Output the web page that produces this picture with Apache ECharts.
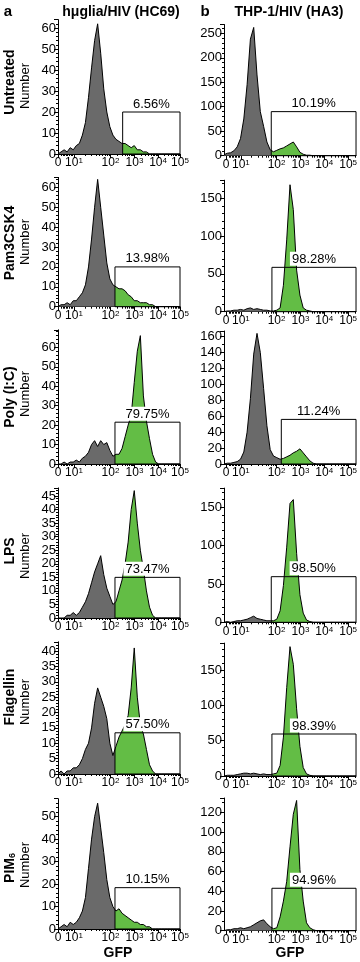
<!DOCTYPE html>
<html lang="en">
<head>
<meta charset="UTF-8">
<title>GFP histograms - hμglia/HIV and THP-1/HIV</title>
<script src="https://cdn.jsdelivr.net/npm/echarts@6/dist/echarts.min.js"></script>
<style>
  body { margin: 0; background: #fff; }
  #chart { width: 360px; height: 962px; }
</style>
</head>
<body>
<div id="chart"></div>
<script>
// GFP histograms on the display (channel) scale 0..1000, one count every 25 units
const binStep = 25;

const rowNames = ['Untreated', 'Pam3CSK4', 'Poly (I:C)', 'LPS', 'Flagellin', 'PIM{sub|6}'];

// a: hμglia/HIV (HC69)
const gliaUntreated = [0,1,2,1,3,2,4,5,9,15, 27,41,54,62,48,31,20,13,9,7, 6,5,5,4,3,4,2,2,1,1, 0,0,0,0,0,0,0,0,0,0,0];
const gliaPam3 =      [0,1,1,2,1,3,3,5,7,11, 20,34,50,64,50,36,22,14,11,10, 9,9,8,6,5,3,3,2,2,2, 1,1,0,0,0,0,0,0,0,0,0];
const gliaPolyIC =    [0,0,1,0,1,1,2,1,3,4, 6,10,12,9,12,10,11,7,4,5, 5,8,14,20,25,42,58,66,35,22, 13,5,1,0,0,0,0,0,0,0,0];
const gliaLPS =       [0,0,0,1,1,2,1,2,4,6, 9,13,17,20,23,16,11,8,5,6, 10,14,20,28,40,47,35,25,18,10, 4,1,0,0,0,0,0,0,0,0,0];
const gliaFlagellin = [0,1,0,1,1,2,2,3,5,8, 10,15,23,28,25,22,18,10,6,9, 12,14,16,19,28,41,25,16,13,8, 3,1,0,0,0,0,0,0,0,0,0];
const gliaPIM6 =      [0,1,2,1,3,2,3,5,8,14, 27,40,50,56,45,34,22,14,10,8, 9,7,6,5,4,3,3,2,2,1, 1,0,0,0,0,0,0,0,0,0,0];
const gliaGate = [530, 467, 467, 467, 467, 467];
const gliaGateTop = [20, 20, 21.5, 15, 13.4, 18.4];
const gliaPct = ['6.56%', '13.98%', '79.75%', '73.47%', '57.50%', '10.15%'];
const gliaYMax = [64, 65, 69, 48, 43, 58];
const gliaYStep = [10, 10, 10, 5, 5, 10];

// b: THP-1/HIV (HA3)
const thpUntreated = [2,5,6,10,18,35,75,145,238,262, 165,90,60,28,12,8,11,14,16,20, 24,28,18,7,3,1,1,0,0,0, 0,0,0,0,0,0,0,0,0,0,0];
const thpPam3 =      [0,1,1,2,2,3,2,4,5,3, 4,3,2,2,1,1,2,5,35,95, 168,135,55,22,5,2,1,0,0,0, 0,0,0,0,0,0,0,0,0,0,0];
const thpPolyIC =    [0,1,1,2,3,6,15,40,82,138, 164,140,95,48,18,10,8,6,7,9, 11,14,16,19,14,9,4,1,0,0, 0,0,0,0,0,0,0,0,0,0,0];
const thpLPS =       [0,1,0,1,2,2,3,4,6,8, 5,4,3,2,2,2,4,15,48,98, 155,160,90,36,12,3,1,0,0,0, 0,0,0,0,0,0,0,0,0,0,0];
const thpFlagellin = [0,1,1,1,2,3,4,4,3,4, 3,2,3,2,2,3,4,15,55,125, 183,158,95,42,12,3,1,0,0,0, 0,0,0,0,0,0,0,0,0,0,0];
const thpPIM6 =      [0,1,1,2,2,3,2,3,4,6, 8,10,11,7,4,2,3,14,30,50, 85,118,132,62,30,8,3,1,0,0, 0,0,0,0,0,0,0,0,0,0,0];
const thpGate = [358, 363, 434, 358, 363, 363];
const thpGateTop = [90, 58.7, 56, 59.5, 59.4, 43];
const thpPct = ['10.19%', '98.28%', '11.24%', '98.50%', '98.39%', '94.96%'];
const thpYMax = [268, 174, 167, 175, 188, 134.5];
const thpYStep = [50, 50, 20, 50, 50, 20];

// GFP tick positions on the display scale and their labels
const gliaTicks = [0, 131, 430, 627, 820, 1000];
const thpTicks = [15, 128, 398, 579, 759, 940];
const tickLabels = ['0', '10{s|1}', '10{s|2}', '10{s|3}', '10{s|4}', '10{s|5}'];

const gliaCounts = [gliaUntreated, gliaPam3, gliaPolyIC, gliaLPS, gliaFlagellin, gliaPIM6];
const thpCounts = [thpUntreated, thpPam3, thpPolyIC, thpLPS, thpFlagellin, thpPIM6];

// layout (pixels)
const gliaTop = [19.6, 177.4, 329.8, 487.9, 641.8, 798.7];
const gliaBase = [154, 306.7, 464, 618, 774, 929];
const thpTop = [24.5, 180.2, 331, 488.1, 643.1, 798];
const thpBase = [155.7, 311.7, 464, 622.3, 776, 930.7];
const rowLabelY = [82, 243, 397, 551, 697, 868];
const numberY = [86, 242, 394, 556, 702, 865];

const fontFamily = 'Liberation Sans, Arial, Helvetica, sans-serif';
const grayFill = '#6a6a6a';
const greenFill = '#63bd45';

// log-style minor ticks between the decade ticks
function minorTicks(t) {
  const out = [];
  for (let m = 2; m <= 9; m++) out.push(t[0] + (t[1] - t[0]) * m / 10);
  for (let k = 1; k < t.length - 1; k++) {
    for (let m = 2; m <= 9; m++) out.push(t[k] + (t[k + 1] - t[k]) * Math.log10(m));
  }
  const last = t[t.length - 1], dec = last - t[t.length - 2];
  for (let m = 2; m <= 9; m++) {
    const p = last + dec * Math.log10(m);
    if (p < 1000) out.push(p);
  }
  return out;
}

const panels = [];
for (let r = 0; r < 6; r++) {
  panels.push({ counts: gliaCounts[r], gate: gliaGate[r], gateTop: gliaGateTop[r], pct: gliaPct[r],
    yMax: gliaYMax[r], yStep: gliaYStep[r], ticks: gliaTicks, left: 58, width: 122,
    top: gliaTop[r], base: gliaBase[r], minorSplit: 5 });
}
for (let r = 0; r < 6; r++) {
  panels.push({ counts: thpCounts[r], gate: thpGate[r], gateTop: thpGateTop[r], pct: thpPct[r],
    yMax: thpYMax[r], yStep: thpYStep[r], ticks: thpTicks, left: 224, width: 133,
    top: thpTop[r], base: thpBase[r], minorSplit: thpYStep[r] === 20 ? 2 : 5 });
}

const grid = [], xAxis = [], yAxis = [], series = [], visualMap = [];
panels.forEach((p, k) => {
  grid.push({ left: p.left, top: p.top, width: p.width, height: p.base - p.top });
  const ticks = p.ticks;
  xAxis.push({
    gridIndex: k, type: 'value', min: 0, max: 1000,
    axisLine: { onZero: false, lineStyle: { color: '#000', width: 1 } },
    axisTick: { customValues: ticks, length: 4, lineStyle: { color: '#000' } },
    axisLabel: {
      customValues: ticks, color: '#000', fontSize: 12, margin: 3, fontFamily: fontFamily,
      formatter: function (v) {
        const i = ticks.findIndex(t => Math.abs(t - v) < 0.5);
        return i < 0 ? '' : tickLabels[i];
      },
      rich: { s: { fontSize: 8, verticalAlign: 'top', lineHeight: 9, fontFamily: fontFamily, color: '#000' } }
    },
    splitLine: { show: false }
  });
  xAxis.push({
    gridIndex: k, type: 'value', min: 0, max: 1000, position: 'bottom',
    axisLine: { show: false },
    axisTick: { customValues: minorTicks(ticks), length: 2, lineStyle: { color: '#000' } },
    axisLabel: { show: false },
    splitLine: { show: false }
  });
  yAxis.push({
    gridIndex: k, type: 'value', min: 0, max: p.yMax, interval: p.yStep,
    axisLine: { show: true, lineStyle: { color: '#000', width: 1 } },
    axisTick: { show: true, length: 4, lineStyle: { color: '#000' } },
    minorTick: { show: true, splitNumber: p.minorSplit, length: 2, lineStyle: { color: '#000' } },
    axisLabel: { color: '#000', fontSize: 13, margin: 2, showMaxLabel: false, fontFamily: fontFamily },
    splitLine: { show: false }
  });

  const data = p.counts.map((v, i) => [i * binStep, v]);
  series.push({
    type: 'line', xAxisIndex: 2 * k, yAxisIndex: k, data: data,
    symbol: 'none', silent: true, animation: false,
    lineStyle: { width: 0 }, areaStyle: { opacity: 1 }, z: 2
  });
  // gray below the gate, green inside it (finite pieces so the gradient gets stops)
  visualMap.push({
    type: 'piecewise', show: false, dimension: 0, seriesIndex: series.length - 1,
    pieces: [{ gte: -100, lt: p.gate, color: grayFill }, { gte: p.gate, lte: 1100, color: greenFill }]
  });
  series.push({
    type: 'line', xAxisIndex: 2 * k, yAxisIndex: k, data: data,
    symbol: 'none', silent: true, animation: false,
    lineStyle: { color: '#000', width: 1 }, z: 3,
    markArea: {
      z: 5, silent: true,
      itemStyle: { color: 'rgba(0,0,0,0)', borderColor: '#000', borderWidth: 1 },
      label: {
        show: true, position: 'top', distance: 1, formatter: p.pct, color: '#000',
        fontSize: 13, fontFamily: fontFamily, backgroundColor: '#fff', padding: [1, 2, 0, 2]
      },
      data: [[{ xAxis: p.gate, yAxis: 0 }, { xAxis: 1000, yAxis: p.gateTop }]]
    }
  });
});

const graphic = [];
function addText(x, y, text, style, rotate) {
  graphic.push({
    type: 'text', x: x, y: y, rotation: rotate ? Math.PI / 2 : 0, silent: true,
    style: Object.assign({ text: text, align: 'center', verticalAlign: 'middle', fill: '#000',
      fontFamily: fontFamily }, style)
  });
}
addText(8, 12, 'a', { fontSize: 15, fontWeight: 'bold' });
addText(121, 12, 'hμglia/HIV (HC69)', { fontSize: 14, fontWeight: 'bold' });
addText(205, 12, 'b', { fontSize: 15, fontWeight: 'bold' });
addText(289, 12, 'THP-1/HIV (HA3)', { fontSize: 14, fontWeight: 'bold' });
rowNames.forEach((name, r) => {
  addText(10, rowLabelY[r], name, { fontSize: 14, fontWeight: 'bold',
    rich: { sub: { fontSize: 9, fontWeight: 'bold', verticalAlign: 'bottom', fontFamily: fontFamily } } }, true);
  addText(25, numberY[r], 'Number', { fontSize: 13 }, true);
});
addText(118, 953, 'GFP', { fontSize: 14, fontWeight: 'bold' });
addText(290, 953, 'GFP', { fontSize: 14, fontWeight: 'bold' });

const chart = echarts.init(document.getElementById('chart'));
chart.setOption({
  animation: false,
  backgroundColor: '#fff',
  textStyle: { fontFamily: fontFamily },
  grid: grid,
  xAxis: xAxis,
  yAxis: yAxis,
  visualMap: visualMap,
  series: series,
  graphic: graphic
});
</script>
</body>
</html>
